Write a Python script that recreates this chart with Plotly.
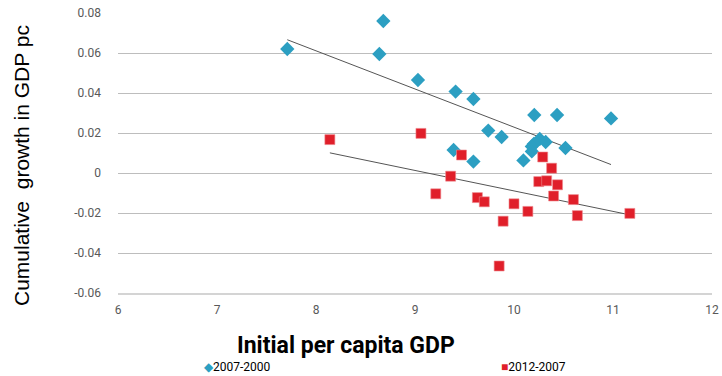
import numpy as np
import plotly.graph_objects as go

# Initial per capita GDP (log) vs cumulative growth, two periods
x_2007_2000 = [7.71, 8.68, 8.64, 9.03, 9.41, 9.59, 9.74, 9.875, 10.205, 10.435,
               10.98, 10.26, 10.32, 10.20, 10.18, 10.18, 10.52, 10.095, 9.39, 9.59]
y_2007_2000 = [0.062, 0.076, 0.0595, 0.0465, 0.0407, 0.037, 0.0212, 0.018, 0.029, 0.029,
               0.0273, 0.017, 0.0155, 0.0145, 0.0133, 0.0108, 0.0125, 0.0063, 0.0115, 0.0057]

x_2012_2007 = [8.14, 9.06, 9.47, 10.29, 10.38, 9.36, 9.21, 9.63, 9.70, 10.25,
               10.33, 10.44, 10.40, 10.60, 10.64, 10.00, 10.14, 9.89, 9.85, 11.17]
y_2012_2007 = [0.0167, 0.0198, 0.009, 0.008, 0.0024, -0.0016, -0.0104, -0.0123, -0.0144, -0.0043,
               -0.0039, -0.0059, -0.0115, -0.0133, -0.0213, -0.0154, -0.0192, -0.0241, -0.0465, -0.0202]

x_ticks = [6, 7, 8, 9, 10, 11, 12]
y_ticks = [-0.06, -0.04, -0.02, 0, 0.02, 0.04, 0.06, 0.08]
y_tick_labels = ["-0.06", "-0.04", "-0.02", "0", "0.02", "0.04", "0.06", "0.08"]

BLUE = "#2C9FC2"
RED = "#E01F2A"
NARROW = "Roboto, Liberation Sans, Arial, sans-serif"
SANS = "Liberation Sans, Arial, sans-serif"


def trend(xs, ys):
    xs = np.asarray(xs)
    ys = np.asarray(ys)
    slope, intercept = np.polyfit(xs, ys, 1)
    xe = np.array([xs.min(), xs.max()])
    return xe, slope * xe + intercept


fig = go.Figure()

# linear trend lines for each period
for xs, ys in [(x_2007_2000, y_2007_2000), (x_2012_2007, y_2012_2007)]:
    tx, ty = trend(xs, ys)
    fig.add_trace(go.Scatter(x=tx, y=ty, mode="lines",
                             line=dict(color="#555555", width=1),
                             showlegend=False, hoverinfo="skip"))

fig.add_trace(go.Scatter(x=x_2007_2000, y=y_2007_2000, mode="markers", name="2007-2000",
                         marker=dict(symbol="diamond", size=11, color=BLUE,
                                     line=dict(width=0))))
fig.add_trace(go.Scatter(x=x_2012_2007, y=y_2012_2007, mode="markers", name="2012-2007",
                         marker=dict(symbol="square", size=10, color=RED,
                                     line=dict(width=0.6, color="#EE8A8F"))))

fig.update_layout(
    width=722, height=376,
    margin=dict(l=118, r=10, t=13, b=83),
    paper_bgcolor="white", plot_bgcolor="white",
    showlegend=False,
    xaxis=dict(range=[6, 12], tickvals=x_ticks, ticktext=[str(v) for v in x_ticks],
               showgrid=False, zeroline=False, showline=True, linecolor="#D4D4D4",
               linewidth=2, ticks="", ticklabelstandoff=5, automargin=False,
               tickfont=dict(family=NARROW, size=12, color="#595959")),
    yaxis=dict(range=[-0.06, 0.08], tickvals=y_ticks, ticktext=y_tick_labels,
               showgrid=True, gridcolor="#BDBDBD", gridwidth=1, zeroline=False,
               showline=False, ticks="", ticklabelstandoff=16, automargin=False,
               tickfont=dict(family=NARROW, size=12, color="#595959")),
    annotations=[
        dict(text="<b>Initial per capita GDP</b>", xref="paper", yref="paper",
             x=(346 - 118) / 594, y=-(345 - 293) / 280, xanchor="center", yanchor="middle",
             showarrow=False, font=dict(family=NARROW, size=23, color="black"),
             ),
        dict(text="Cumulative  growth in GDP pc", xref="paper", yref="paper",
             x=-(118 - 21) / 594, y=(293 - 166) / 280, xanchor="center", yanchor="middle",
             textangle=-90, showarrow=False,
             font=dict(family=SANS, size=21, color="black")),
        dict(text=f"<span style='color:{BLUE}'>◆</span>2007-2000", xref="paper", yref="paper",
             x=(202 - 118) / 594, y=-(367 - 293) / 280, xanchor="left", yanchor="middle",
             showarrow=False, font=dict(family=NARROW, size=12, color="black")),
        dict(text=f"<span style='color:{RED}'>■</span>2012-2007", xref="paper", yref="paper",
             x=(499 - 118) / 594, y=-(367 - 293) / 280, xanchor="left", yanchor="middle",
             showarrow=False, font=dict(family=NARROW, size=12, color="black")),
    ],
)

fig.write_html("out.html")
